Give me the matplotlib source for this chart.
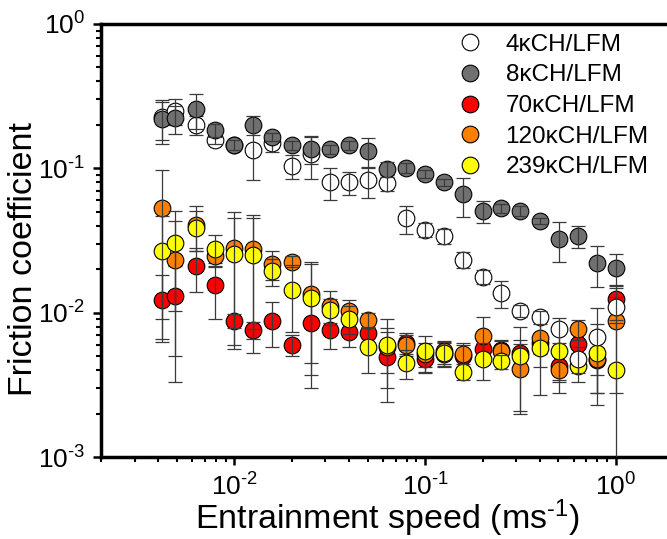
import matplotlib
matplotlib.use("Agg")
import matplotlib.pyplot as plt
from matplotlib.ticker import LogLocator, NullFormatter, FuncFormatter
import numpy as np

plt.rcParams['font.family'] = ['Liberation Sans', 'DejaVu Sans']
plt.rcParams['mathtext.fontset'] = 'custom'
plt.rcParams['mathtext.rm'] = 'Liberation Sans'
plt.rcParams['mathtext.default'] = 'regular'

# entrainment speed (m/s)
speed = [0.0042, 0.0049, 0.0063, 0.0079, 0.01, 0.0126, 0.0158, 0.02, 0.0251,
         0.0316, 0.0398, 0.0501, 0.0631, 0.0794, 0.1, 0.126, 0.158, 0.2,
         0.251, 0.316, 0.398, 0.501, 0.631, 0.794, 1.0]

labels = ['4κCH/LFM', '8κCH/LFM', '70κCH/LFM', '120κCH/LFM', '239κCH/LFM']
colors = ['white', '#707070', '#ff0000', '#ff8000', '#ffff00']

# friction coefficients
mu_4 = [0.228, 0.25, 0.200, 0.158, 0.145, 0.133, 0.150, 0.104, 0.125, 0.080,
        0.080, 0.0826, 0.0796, 0.0452, 0.0375, 0.0339, 0.0233, 0.0178, 0.0137,
        0.0103, 0.0093, 0.0077, 0.0048, 0.0068, 0.0109]
err_4 = [0.07, 0.05, 0.03, 0.01, 0.01, 0.05, 0.02, 0.02, 0.04, 0.02, 0.015,
         0.02, 0.01, 0.01, 0.004, 0.004, 0.003, 0.002, 0.003, 0.001, 0.001,
         0.0015, 0.001, 0.004, 0.002]

mu_8 = [0.218, 0.222, 0.257, 0.184, 0.145, 0.201, 0.165, 0.145, 0.137, 0.136,
        0.145, 0.131, 0.0995, 0.101, 0.092, 0.080, 0.066, 0.0505, 0.053,
        0.0508, 0.043, 0.0325, 0.034, 0.022, 0.0205]
err_8 = [0.07, 0.05, 0.07, 0.02, 0.012, 0.03, 0.01, 0.01, 0.03, 0.01, 0.01,
         0.03, 0.012, 0.008, 0.006, 0.005, 0.02, 0.009, 0.004, 0.004, 0.002,
         0.01, 0.006, 0.007, 0.005]

mu_70 = [0.0123, 0.0130, 0.021, 0.0156, 0.0088, 0.0076, 0.0088, 0.0060,
         0.0085, 0.0076, 0.0074, 0.0072, 0.0049, 0.0062, 0.0048, 0.0052,
         0.0050, 0.0056, 0.0055, 0.0053, 0.0062, 0.0043, 0.0061, 0.0047, 0.0124]
err_70 = [0.006, 0.008, 0.007, 0.0065, 0.001, 0.001, 0.003, 0.001, 0.0055,
          0.002, 0.0016, 0.0015, 0.0025, 0.001, 0.001, 0.001, 0.001, 0.0012,
          0.001, 0.0012, 0.001, 0.001, 0.001, 0.001, 0.003]

mu_120 = [0.053, 0.0233, 0.0406, 0.0249, 0.028, 0.0277, 0.0218, 0.0226,
          0.0135, 0.0112, 0.0103, 0.0089, 0.0058, 0.0060, 0.0052, 0.0054,
          0.0052, 0.0069, 0.0054, 0.0041, 0.0067, 0.0040, 0.0077, 0.0048, 0.0088]
err_120 = [0.044, 0.02, 0.014, 0.004, 0.022, 0.02, 0.005, 0.002, 0.009,
           0.003, 0.002, 0.001, 0.002, 0.001, 0.001, 0.001, 0.001, 0.0025,
           0.001, 0.002, 0.0025, 0.0012, 0.0012, 0.002, 0.006]

mu_239 = [0.0266, 0.0303, 0.0387, 0.0277, 0.0256, 0.0253, 0.0194, 0.0143,
          0.0127, 0.0105, 0.0091, 0.0058, 0.0060, 0.0045, 0.0054, 0.0053,
          0.0039, 0.0048, 0.0046, 0.0050, 0.0057, 0.0054, 0.0043, 0.0053, 0.0040]
err_239 = [0.02, 0.02, 0.012, 0.007, 0.02, 0.02, 0.004, 0.007, 0.009, 0.002,
           0.002, 0.002, 0.003, 0.001, 0.0015, 0.001, 0.0005, 0.0014, 0.0005,
           0.003, 0.003, 0.002, 0.001, 0.003, 0.0045]

series = [mu_4, mu_8, mu_70, mu_120, mu_239]
errors = [err_4, err_8, err_70, err_120, err_239]
# drawing order: low-friction series first, then white and grey on top
draw_order = [2, 3, 4, 0, 1]


def pow10(v, pos):
    # short hyphen in the exponent, like the original figure
    n = int(round(np.log10(v)))
    exp = '\\text{-}%d' % -n if n < 0 else '%d' % n
    return '$10^{%s}$' % exp


fig = plt.figure(figsize=(6.67, 5.39), dpi=100)
ax = fig.add_axes([0.1514, 0.152, 0.858, 0.8035])

handles = {}
for k, i in enumerate(draw_order):
    z = 3 + k
    h, = ax.plot(speed, series[i], 'o', ms=12, mfc=colors[i], mec='black',
                 mew=0.8, zorder=z)
    ax.errorbar(speed, series[i], yerr=errors[i], fmt='none', ecolor='#3a3a3a',
                elinewidth=0.9, capsize=5, capthick=0.9, zorder=z + 0.5)
    handles[i] = h

ax.set_xscale('log')
ax.set_yscale('log')
ax.set_xlim(0.002, 2)
ax.set_ylim(1e-3, 1)

ax.xaxis.set_major_locator(LogLocator(base=10, numticks=10))
ax.xaxis.set_major_formatter(FuncFormatter(pow10))
ax.yaxis.set_major_formatter(FuncFormatter(pow10))
ax.xaxis.set_minor_locator(LogLocator(base=10, subs=range(2, 10), numticks=20))
ax.xaxis.set_minor_formatter(NullFormatter())
ax.yaxis.set_minor_locator(LogLocator(base=10, subs=range(2, 10), numticks=20))
ax.yaxis.set_minor_formatter(NullFormatter())

for s in ['left', 'bottom', 'top', 'right']:
    ax.spines[s].set_linewidth(2.5)
ax.tick_params(which='major', direction='out', length=5.5, width=1.8,
               labelsize=19, pad=6)
ax.tick_params(which='minor', direction='out', length=3.5, width=1.5)
ax.tick_params(top=False, right=False, which='both')

ax.set_xlabel('Entrainment speed (ms$^{\\text{-}1}$)', fontsize=24.5, labelpad=-2)
ax.set_ylabel('Friction coefficient', fontsize=24.5, labelpad=-1)
ax.yaxis.label.set_y(0.457)

ax.legend([handles[i] for i in range(5)], labels, loc='upper left',
          bbox_to_anchor=(0.687, 0.937), bbox_transform=fig.transFigure,
          frameon=False, fontsize=17.5, handlelength=1.0, handletextpad=0.95,
          labelspacing=0.35, borderpad=0, borderaxespad=0, numpoints=1)

fig.savefig('out.png', dpi=100)
